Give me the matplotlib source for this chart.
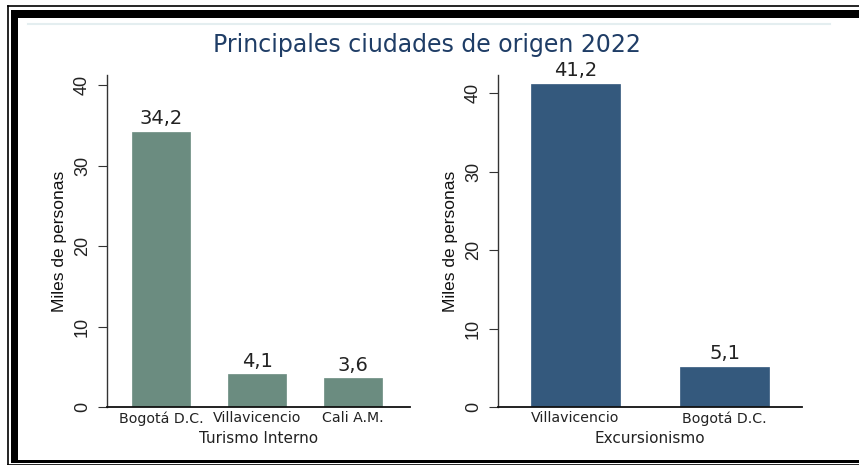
import matplotlib
matplotlib.use("Agg")
import matplotlib.pyplot as plt
from matplotlib.lines import Line2D
from matplotlib.patches import Rectangle

# ---- data ----
title = "Principales ciudades de origen 2022"
ylabel = "Miles de personas"
turismo_cats = ["Bogotá D.C.", "Villavicencio", "Cali A.M."]
turismo_vals = [34.2, 4.1, 3.6]
turismo_xlabel = "Turismo Interno"
excursion_cats = ["Villavicencio", "Bogotá D.C."]
excursion_vals = [41.2, 5.1]
excursion_xlabel = "Excursionismo"
yticks = [0, 10, 20, 30, 40]

W, H = 859, 465
fig = plt.figure(figsize=(W / 100, H / 100), dpi=100)


def fx(px):
    return px / W


def fy(py):
    return 1 - py / H


# ---- outer frame ----
fig.add_artist(Rectangle((fx(11), fy(18)), 1, fy(10) - fy(18),
                         transform=fig.transFigure, color="black", lw=0))
fig.add_artist(Rectangle((fx(11), fy(463)), fx(7), fy(10) - fy(463),
                         transform=fig.transFigure, color="black", lw=0))
fig.add_artist(Rectangle((fx(11), fy(463)), 1, fy(460) - fy(463),
                         transform=fig.transFigure, color="black", lw=0))
fig.add_artist(Line2D([fx(8), 1], [fy(6.5), fy(6.5)], transform=fig.transFigure,
                      color="black", lw=1.2))
fig.add_artist(Line2D([fx(8), fx(8)], [fy(6.5), fy(464.5)], transform=fig.transFigure,
                      color="black", lw=1.2))
fig.add_artist(Line2D([fx(8), 1], [fy(464.5), fy(464.5)], transform=fig.transFigure,
                      color="black", lw=1.2))
fig.add_artist(Line2D([fx(28), fx(830)], [fy(24), fy(24)], transform=fig.transFigure,
                      color="#e4eef0", lw=1.5))

fig.text(fx(427), fy(45), title, ha="center", va="center", fontsize=17,
         color="#1f3d66", family="DejaVu Sans")


def panel(rect, cats, vals, color, xlim, ylim, xlabel):
    ax = fig.add_axes(rect)
    x = list(range(len(cats)))
    bars = ax.bar(x, vals, width=0.6, color=color, edgecolor=color, lw=0.5, zorder=2)
    for b, v in zip(bars, vals):
        ax.annotate(f"{v:.1f}".replace(".", ","),
                    (b.get_x() + b.get_width() / 2, b.get_height()),
                    xytext=(0, 2.5), textcoords="offset points",
                    ha="center", va="bottom", fontsize=14, color="#222222",
                    family="DejaVu Sans")
    ax.set_xlim(*xlim)
    ax.set_ylim(*ylim)
    ax.set_xticks(x)
    ax.set_xticklabels(cats, fontsize=10.2, color="#222222", family="DejaVu Sans")
    ax.tick_params(axis="x", length=0, pad=3)
    ax.set_yticks(yticks)
    ax.set_yticklabels([str(t) for t in yticks], rotation=90, va="center",
                       fontsize=13, color="#222222", family="Liberation Sans")
    ax.tick_params(axis="y", length=6.5, width=0.8, pad=5, color="#333333")
    ax.set_ylabel(ylabel, fontsize=12.5, color="#111111", family="Liberation Sans",
                  labelpad=5)
    ax.set_xlabel(xlabel, fontsize=11, color="#222222", family="DejaVu Sans",
                  labelpad=4)
    for s in ["top", "right"]:
        ax.spines[s].set_visible(False)
    ax.spines["left"].set_color("#333333")
    ax.spines["left"].set_linewidth(1.0)
    ax.spines["bottom"].set_color("#111111")
    ax.spines["bottom"].set_linewidth(1.3)
    ax.set_facecolor("white")
    return ax


panel([fx(107), fy(407), fx(410) - fx(107), fy(75) - fy(407)],
      turismo_cats, turismo_vals, "#6b8c80", (-0.56, 2.59), (0, 41.25),
      turismo_xlabel)
panel([fx(498), fy(407), fx(802) - fx(498), fy(75) - fy(407)],
      excursion_cats, excursion_vals, "#34597d", (-0.52, 1.52), (0, 42.3),
      excursion_xlabel)

fig.savefig("out.png", dpi=100)
